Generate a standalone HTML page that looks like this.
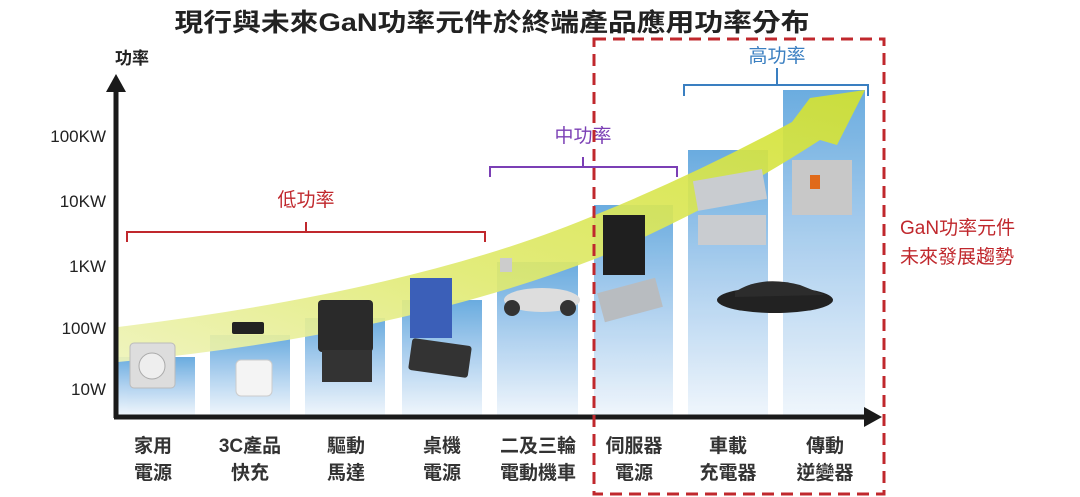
<!DOCTYPE html>
<html><head><meta charset="utf-8"><style>
html,body{margin:0;padding:0;background:#fff;}
svg{display:block;font-family:"Liberation Sans","Noto Sans CJK TC",sans-serif;}
</style></head><body>
<svg width="1080" height="497" viewBox="0 0 1080 497">
<defs>
<linearGradient id="bg" x1="0" y1="0" x2="0" y2="1">
<stop offset="0" stop-color="#5aa3dc"/><stop offset="0.5" stop-color="#a8cdee"/><stop offset="1" stop-color="#eef5fc"/>
</linearGradient>
<linearGradient id="yl" x1="0" y1="1" x2="1" y2="0">
<stop offset="0" stop-color="#eef3b8"/><stop offset="0.4" stop-color="#e0ea70"/><stop offset="1" stop-color="#d2e12e"/>
</linearGradient>
</defs>
<text x="492" y="31" text-anchor="middle" font-size="25" font-weight="bold" fill="#222" textLength="635" lengthAdjust="spacingAndGlyphs">現行與未來GaN功率元件於終端產品應用功率分布</text>
<g fill="url(#bg)" opacity="0.9">
<rect x="118" y="357" width="77" height="58"/>
<rect x="210" y="335" width="80" height="80"/>
<rect x="305" y="318" width="80" height="97"/>
<rect x="402" y="300" width="80" height="115"/>
<rect x="497" y="262" width="81" height="153"/>
<rect x="594" y="205" width="79" height="210"/>
<rect x="688" y="150" width="80" height="265"/>
<rect x="783" y="90" width="82" height="325"/>
</g>
<path d="M118,327 Q420,290 600,213 Q700,172 792,122 L810,98 L865,90 L837,145 L820,140 Q720,205 600,257 Q400,335 118,362 Z" fill="url(#yl)" opacity="0.92"/>
<rect x="130" y="343" width="45" height="45" rx="4" fill="#ddd" stroke="#bbb"/><circle cx="152" cy="366" r="13" fill="#eee" stroke="#aaa"/>
<rect x="232" y="322" width="32" height="12" rx="2" fill="#222"/><rect x="236" y="360" width="36" height="36" rx="5" fill="#f4f4f4" stroke="#ccc"/>
<rect x="318" y="300" width="55" height="52" rx="4" fill="#2a2a2a"/><rect x="322" y="350" width="50" height="32" fill="#333"/>
<rect x="410" y="278" width="42" height="60" fill="#3b5fb8"/><rect x="410" y="342" width="60" height="32" rx="3" fill="#333" transform="rotate(8 440 358)"/>
<ellipse cx="542" cy="300" rx="38" ry="12" fill="#ddd"/><circle cx="512" cy="308" r="8" fill="#333"/><circle cx="568" cy="308" r="8" fill="#333"/><rect x="500" y="258" width="12" height="14" fill="#ccc"/>
<rect x="603" y="215" width="42" height="60" fill="#1f1f1f"/><rect x="600" y="285" width="60" height="30" fill="#b8bcc0" transform="rotate(-15 630 300)"/>
<rect x="695" y="175" width="70" height="30" fill="#c9ccd0" transform="rotate(-10 730 190)"/><rect x="698" y="215" width="68" height="30" fill="#c9ccd0"/>
<ellipse cx="775" cy="300" rx="58" ry="13" fill="#222"/><path d="M735,292 Q760,275 800,285 L825,295 L735,297 Z" fill="#2c2c2c"/>
<rect x="792" y="160" width="60" height="55" fill="#c8c8c8"/><rect x="810" y="175" width="10" height="14" fill="#e06a1a"/>
<g fill="#1a1a1a" stroke="#1a1a1a">
<line x1="116" y1="90" x2="116" y2="418" stroke-width="5"/>
<polygon points="116,74 106,92 126,92" stroke="none"/>
<line x1="114" y1="417" x2="866" y2="417" stroke-width="5"/>
<polygon points="882,417 864,407 864,427" stroke="none"/>
</g>
<g font-size="17" fill="#222" text-anchor="end">
<text x="132" y="64" text-anchor="middle" font-weight="bold">功率</text>
<text x="106" y="142">100KW</text>
<text x="106" y="207">10KW</text>
<text x="106" y="272">1KW</text>
<text x="106" y="334">100W</text>
<text x="106" y="395">10W</text>
</g>
<g fill="none" stroke-width="2">
<path d="M127,242 V232 H485 V242 M306,232 V222" stroke="#c0282d"/>
<path d="M490,177 V167 H677 V177 M583,167 V157" stroke="#7b3fb5"/>
<path d="M684,96 V85 H868 V96 M777,85 V68" stroke="#3a7fc1"/>
</g>
<text x="306" y="206" text-anchor="middle" font-size="19" fill="#c0282d">低功率</text>
<text x="583" y="142" text-anchor="middle" font-size="19" fill="#7b3fb5">中功率</text>
<text x="777" y="62" text-anchor="middle" font-size="19" fill="#3a7fc1">高功率</text>
<rect x="594" y="39" width="290" height="455" fill="none" stroke="#c0282d" stroke-width="3" stroke-dasharray="12 7"/>
<text x="900" y="234" font-size="19" fill="#c0282d">GaN功率元件</text>
<text x="900" y="263" font-size="19" fill="#c0282d">未來發展趨勢</text>
<g font-size="19" fill="#333" text-anchor="middle" font-weight="bold">
<text x="153" y="452">家用</text><text x="153" y="479">電源</text>
<text x="250" y="452">3C產品</text><text x="250" y="479">快充</text>
<text x="346" y="452">驅動</text><text x="346" y="479">馬達</text>
<text x="442" y="452">桌機</text><text x="442" y="479">電源</text>
<text x="538" y="452">二及三輪</text><text x="538" y="479">電動機車</text>
<text x="634" y="452">伺服器</text><text x="634" y="479">電源</text>
<text x="728" y="452">車載</text><text x="728" y="479">充電器</text>
<text x="825" y="452">傳動</text><text x="825" y="479">逆變器</text>
</g>
</svg>
</body></html>
